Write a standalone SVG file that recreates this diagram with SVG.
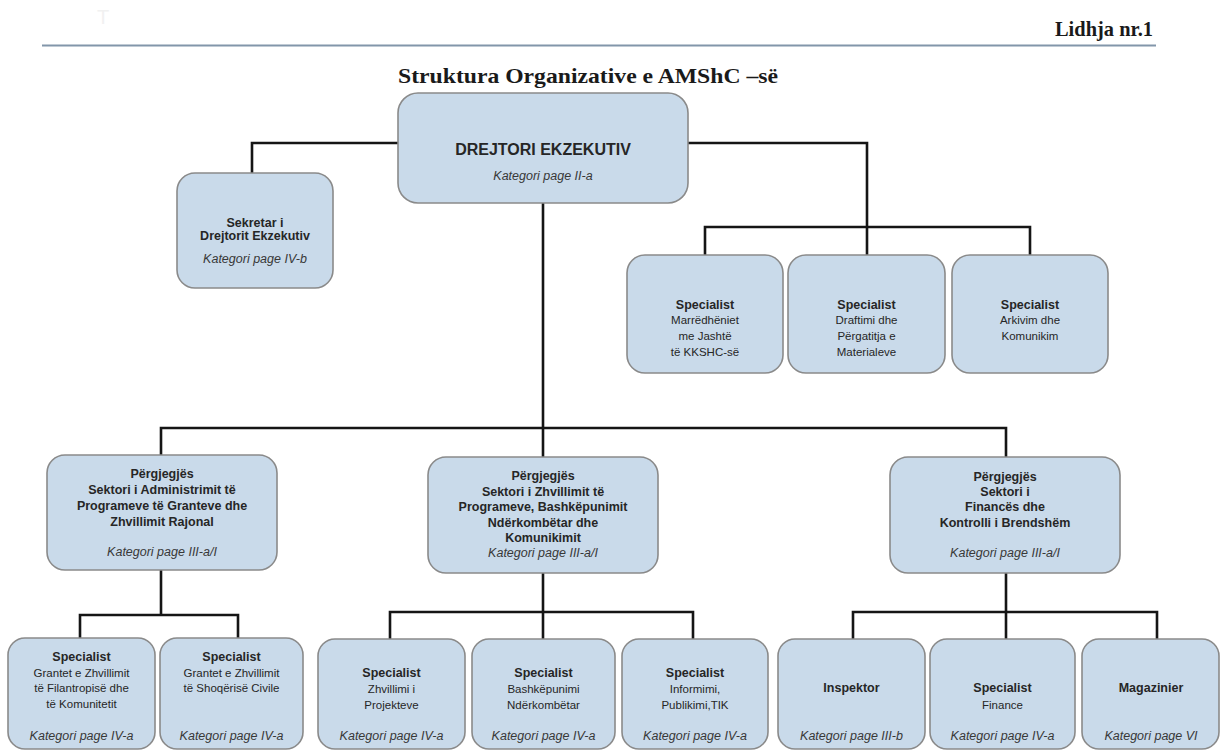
<svg xmlns="http://www.w3.org/2000/svg" width="1221" height="751" viewBox="0 0 1221 751">
<style>
.box{fill:#c9daea;stroke:#8a8a8a;stroke-width:1.6}
.conn path{fill:none;stroke:#151515;stroke-width:2.6}
text{font-family:"Liberation Sans",Arial,sans-serif;fill:#262626;text-anchor:middle}
.b{font-weight:bold;font-size:12.5px}
.r{font-size:11.5px}
.i{font-style:italic;font-size:12.5px;fill:#383838}
.hd{font-family:"Liberation Serif","DejaVu Serif",serif;font-weight:bold;fill:#1a1a1a}
</style>
<rect width="1221" height="751" fill="#ffffff"/>
<g id="header">
<text x="103" y="24" style="font-size:20px;fill:#f1f1f1">T</text>
<text x="1153" y="36" class="hd" style="font-size:21px;text-anchor:end" textLength="98" lengthAdjust="spacingAndGlyphs">Lidhja nr.1</text>
<line x1="42" y1="45.5" x2="1156" y2="45.5" stroke="#8296aa" stroke-width="2"/>
<text x="588" y="83" class="hd" style="font-size:22px" textLength="380" lengthAdjust="spacingAndGlyphs">Struktura Organizative e AMShC –së</text>
</g>
<g class="conn" id="connectors">
<path d="M398,143 H252 V173"/>
<path d="M688,143 H867 V255"/>
<path d="M705,255 V227 H1030 V255"/>
<path d="M543,203 V457"/>
<path d="M161,455 V428 H1006 V457"/>
<path d="M161,570 V615"/>
<path d="M80,638 V615 H238 V638"/>
<path d="M543,573 V639"/>
<path d="M390,639 V612 H693 V639"/>
<path d="M1006,573 V639"/>
<path d="M853,639 V612 H1157 V639"/>
</g>
<g id="drejtori">
<rect class="box" x="398" y="93" width="290" height="110" rx="20"/>
<text x="543" y="155" class="b" style="font-size:16px">DREJTORI EKZEKUTIV</text>
<text x="543" y="180" class="i">Kategori page II-a</text>
</g>
<g id="sekretar">
<rect class="box" x="177" y="173" width="156" height="115" rx="18"/>
<text x="255" y="227" class="b">Sekretar i</text>
<text x="255" y="240" class="b">Drejtorit Ekzekutiv</text>
<text x="255" y="263" class="i">Kategori page IV-b</text>
</g>
<g id="spec-marredheniet">
<rect class="box" x="627" y="255" width="156" height="118" rx="18"/>
<text x="705" y="309" class="b">Specialist</text>
<text x="705" y="324" class="r">Marrëdhëniet</text>
<text x="705" y="340" class="r">me Jashtë</text>
<text x="705" y="356" class="r">të KKSHC-së</text>
</g>
<g id="spec-draftimi">
<rect class="box" x="788" y="255" width="157" height="118" rx="18"/>
<text x="866.5" y="309" class="b">Specialist</text>
<text x="866.5" y="324" class="r">Draftimi dhe</text>
<text x="866.5" y="340" class="r">Përgatitja e</text>
<text x="866.5" y="356" class="r">Materialeve</text>
</g>
<g id="spec-arkivim">
<rect class="box" x="952" y="255" width="156" height="118" rx="18"/>
<text x="1030" y="309" class="b">Specialist</text>
<text x="1030" y="324" class="r">Arkivim dhe</text>
<text x="1030" y="340" class="r">Komunikim</text>
</g>
<g id="sektor-administrimit">
<rect class="box" x="47" y="455" width="230" height="115" rx="18"/>
<text x="162" y="478" class="b">Përgjegjës</text>
<text x="162" y="494" class="b">Sektori i Administrimit të</text>
<text x="162" y="510" class="b">Programeve të Granteve dhe</text>
<text x="162" y="526" class="b">Zhvillimit Rajonal</text>
<text x="162" y="556" class="i">Kategori page III-a/I</text>
</g>
<g id="sektor-zhvillimit">
<rect class="box" x="428" y="457" width="230" height="116" rx="18"/>
<text x="543" y="480" class="b">Përgjegjës</text>
<text x="543" y="496" class="b">Sektori i Zhvillimit të</text>
<text x="543" y="511" class="b">Programeve, Bashkëpunimit</text>
<text x="543" y="527" class="b">Ndërkombëtar dhe</text>
<text x="543" y="542" class="b">Komunikimit</text>
<text x="543" y="557" class="i">Kategori page III-a/I</text>
</g>
<g id="sektor-finances">
<rect class="box" x="890" y="457" width="230" height="116" rx="18"/>
<text x="1005" y="481" class="b">Përgjegjës</text>
<text x="1005" y="496" class="b">Sektori i</text>
<text x="1005" y="511" class="b">Financës dhe</text>
<text x="1005" y="527" class="b">Kontrolli i Brendshëm</text>
<text x="1005" y="557" class="i">Kategori page III-a/I</text>
</g>
<g id="spec-filantropise">
<rect class="box" x="8" y="638" width="147" height="111" rx="17"/>
<text x="81.5" y="661" class="b">Specialist</text>
<text x="81.5" y="677" class="r">Grantet e Zhvillimit</text>
<text x="81.5" y="692" class="r">të Filantropisë dhe</text>
<text x="81.5" y="708" class="r">të Komunitetit</text>
<text x="81.5" y="740" class="i">Kategori page IV-a</text>
</g>
<g id="spec-shoqerise">
<rect class="box" x="160" y="638" width="143" height="111" rx="17"/>
<text x="231.5" y="661" class="b">Specialist</text>
<text x="231.5" y="677" class="r">Grantet e Zhvillimit</text>
<text x="231.5" y="692" class="r">të Shoqërisë Civile</text>
<text x="231.5" y="740" class="i">Kategori page IV-a</text>
</g>
<g id="spec-projekteve">
<rect class="box" x="318" y="639" width="147" height="110" rx="17"/>
<text x="391.5" y="677" class="b">Specialist</text>
<text x="391.5" y="693" class="r">Zhvillimi i</text>
<text x="391.5" y="709" class="r">Projekteve</text>
<text x="391.5" y="740" class="i">Kategori page IV-a</text>
</g>
<g id="spec-bashkepunimi">
<rect class="box" x="472" y="639" width="143" height="110" rx="17"/>
<text x="543.5" y="677" class="b">Specialist</text>
<text x="543.5" y="693" class="r">Bashkëpunimi</text>
<text x="543.5" y="709" class="r">Ndërkombëtar</text>
<text x="543.5" y="740" class="i">Kategori page IV-a</text>
</g>
<g id="spec-informimi">
<rect class="box" x="622" y="639" width="146" height="110" rx="17"/>
<text x="695" y="677" class="b">Specialist</text>
<text x="695" y="693" class="r">Informimi,</text>
<text x="695" y="709" class="r">Publikimi,TIK</text>
<text x="695" y="740" class="i">Kategori page IV-a</text>
</g>
<g id="inspektor">
<rect class="box" x="778" y="639" width="147" height="110" rx="17"/>
<text x="851.5" y="692" class="b">Inspektor</text>
<text x="851.5" y="740" class="i">Kategori page III-b</text>
</g>
<g id="spec-finance">
<rect class="box" x="930" y="639" width="145" height="110" rx="17"/>
<text x="1002.5" y="692" class="b">Specialist</text>
<text x="1002.5" y="709" class="r">Finance</text>
<text x="1002.5" y="740" class="i">Kategori page IV-a</text>
</g>
<g id="magazinier">
<rect class="box" x="1082" y="639" width="137" height="110" rx="17"/>
<text x="1151" y="692" class="b">Magazinier</text>
<text x="1151" y="740" class="i">Kategori page VI</text>
</g>
</svg>
